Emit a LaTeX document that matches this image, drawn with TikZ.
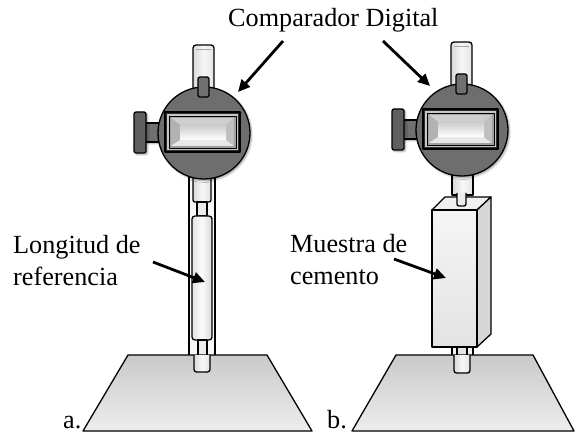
\documentclass[tikz,border=0pt]{standalone}
\usepackage{fontspec}
\setmainfont{Liberation Serif}
\usetikzlibrary{arrows.meta,calc,shadows.blur}

\definecolor{dialgray}{HTML}{6E6E6E}
\definecolor{knobgray}{HTML}{707070}
\definecolor{deepgray}{HTML}{2E2E2E}

\tikzset{
  outline/.style={draw=black, line width=1.3pt},
  thickline/.style={draw=black, line width=1.8pt},
  tubefill/.style={left color=gray!30, right color=gray!22, middle color=gray!6},
  label/.style={font=\fontsize{26.2}{32}\selectfont, inner sep=0pt, align=left},
  pointer/.style={line width=2.8pt, -{Triangle[length=12pt,width=11pt]}},
  softshadow/.style={blur shadow={shadow xshift=1.5pt, shadow yshift=-1.5pt,
      shadow blur steps=6, shadow blur extra rounding=1pt, shadow opacity=35}},
  % dial gauge head, drawn around the centre of its round body
  dialhead/.pic={
    % plunger tube above the body
    \path[outline, tubefill, rounded corners=3pt] (-11,-32) -- (-11,-88) -- (10,-88) -- (10,-32);
    \draw[line width=0.8pt, gray!70] (-8,-84) -- (7,-84);
    % side knob and its neck
    \path[outline, fill=knobgray, softshadow] (-60,-10) rectangle (-42,9);
    \path[outline, fill=knobgray!85!black, rounded corners=2pt, softshadow] (-70,-21) rectangle (-58,20);
    % round body
    \path[outline, fill=dialgray, softshadow] (0,0) circle (46);
    % top knob
    \path[outline, fill=knobgray, rounded corners=2pt] (-6,-56) rectangle (5,-36);
    % display window
    \path[draw=black, line width=1.4pt, fill=deepgray] (-39,-21) rectangle (36,19);
    \path[fill=gray!45] (-37,-19) rectangle (34,17);
    \path[draw=black, line width=0.9pt, fill=gray!75] (-35,-17) rectangle (32,15);
    \path[fill=gray!38] (-33,-15) -- (30,-15) -- (22,-8) -- (-24,-8) -- cycle;
    \path[fill=gray!60] (-33,-15) -- (-24,-8) -- (-24,7) -- (-33,13) -- cycle;
    \path[fill=gray!18] (-33,13) -- (-24,7) -- (22,7) -- (30,13) -- cycle;
    \path[fill=gray!50] (30,-15) -- (22,-8) -- (22,7) -- (30,13) -- cycle;
    \path[top color=gray!40, bottom color=white] (-24,-8) rectangle (22,7);
  }
}

\begin{document}
\begin{tikzpicture}[x=1pt, y=-1pt, line join=round]
\useasboundingbox (0,0) rectangle (575,435);

% ---------- texts ----------
\node[label, anchor=base west] (comp) at (228,27) {Comparador Digital};
\node[label, anchor=north west] (lref) at (13,235) {Longitud de\\referencia};
\node[label, anchor=north west] (cem) at (290,234) {Muestra de\\cemento};
\node[label, anchor=base west] (la) at (63,428) {a.};
\node[label, anchor=base west] (lb) at (327,428) {b.};

% ---------- apparatus a ----------
% rod frame with the reference bar inside
\path[thickline, fill=gray!6] (189,172) rectangle (215,356);
\path[outline, tubefill, rounded corners=2pt] (193,174) rectangle (211,202);
\path[outline, fill=gray!15] (197,202) rectangle (207,216);
\path[outline, left color=gray!22, right color=gray!30, middle color=gray!4, rounded corners=3pt]
  (192,216) rectangle (212,340);
\path[outline, fill=gray!15] (198,340) rectangle (207,356);
\pic at (204,133) {dialhead};
% base plate
\path[outline, top color=gray!42, bottom color=gray!14] (128,355) -- (267,355) -- (312,431) -- (83,431) -- cycle;
\path[outline, tubefill, rounded corners=2.5pt] (194,355) -- (194,372) -- (210,372) -- (210,355);

% ---------- apparatus b ----------
\path[thickline, tubefill] (452,172) rectangle (473,195);
% cement specimen prism
\path[outline, fill=gray!12] (432,210) -- (445,197) -- (491,197) -- (477,210) -- cycle;
\path[outline, fill=gray!32] (477,210) -- (491,197) -- (491,334) -- (477,347) -- cycle;
\path[outline, top color=gray!8, bottom color=gray!22] (432,210) rectangle (477,347);
\path[outline, fill=gray!15, rounded corners=2pt] (457,193) -- (457,206) -- (466,206) -- (466,193);
\path[outline, fill=gray!10] (452,347) rectangle (473,356);
\path[outline, fill=gray!20] (457,347) rectangle (467,356);
\pic at (462,130) {dialhead};
% base plate
\path[outline, top color=gray!42, bottom color=gray!14] (396,355) -- (533,355) -- (574,431) -- (352,431) -- cycle;
\path[outline, tubefill, rounded corners=2.5pt] (454,355) -- (454,373) -- (470,373) -- (470,355);

% ---------- pointers ----------
\coordinate (dialA) at (238,92);
\coordinate (dialB) at (430,86);
\coordinate (barA) at (205,282);
\coordinate (prismB) at (446,278);
\draw[pointer] ([shift={(55,14)}]comp.base west) -- (dialA);
\draw[pointer] ([shift={(155,14)}]comp.base west) -- (dialB);
\draw[pointer] ([shift={(140,27)}]lref.north west) -- (barA);
\draw[pointer] ([shift={(104,25)}]cem.north west) -- (prismB);
\end{tikzpicture}
\end{document}
